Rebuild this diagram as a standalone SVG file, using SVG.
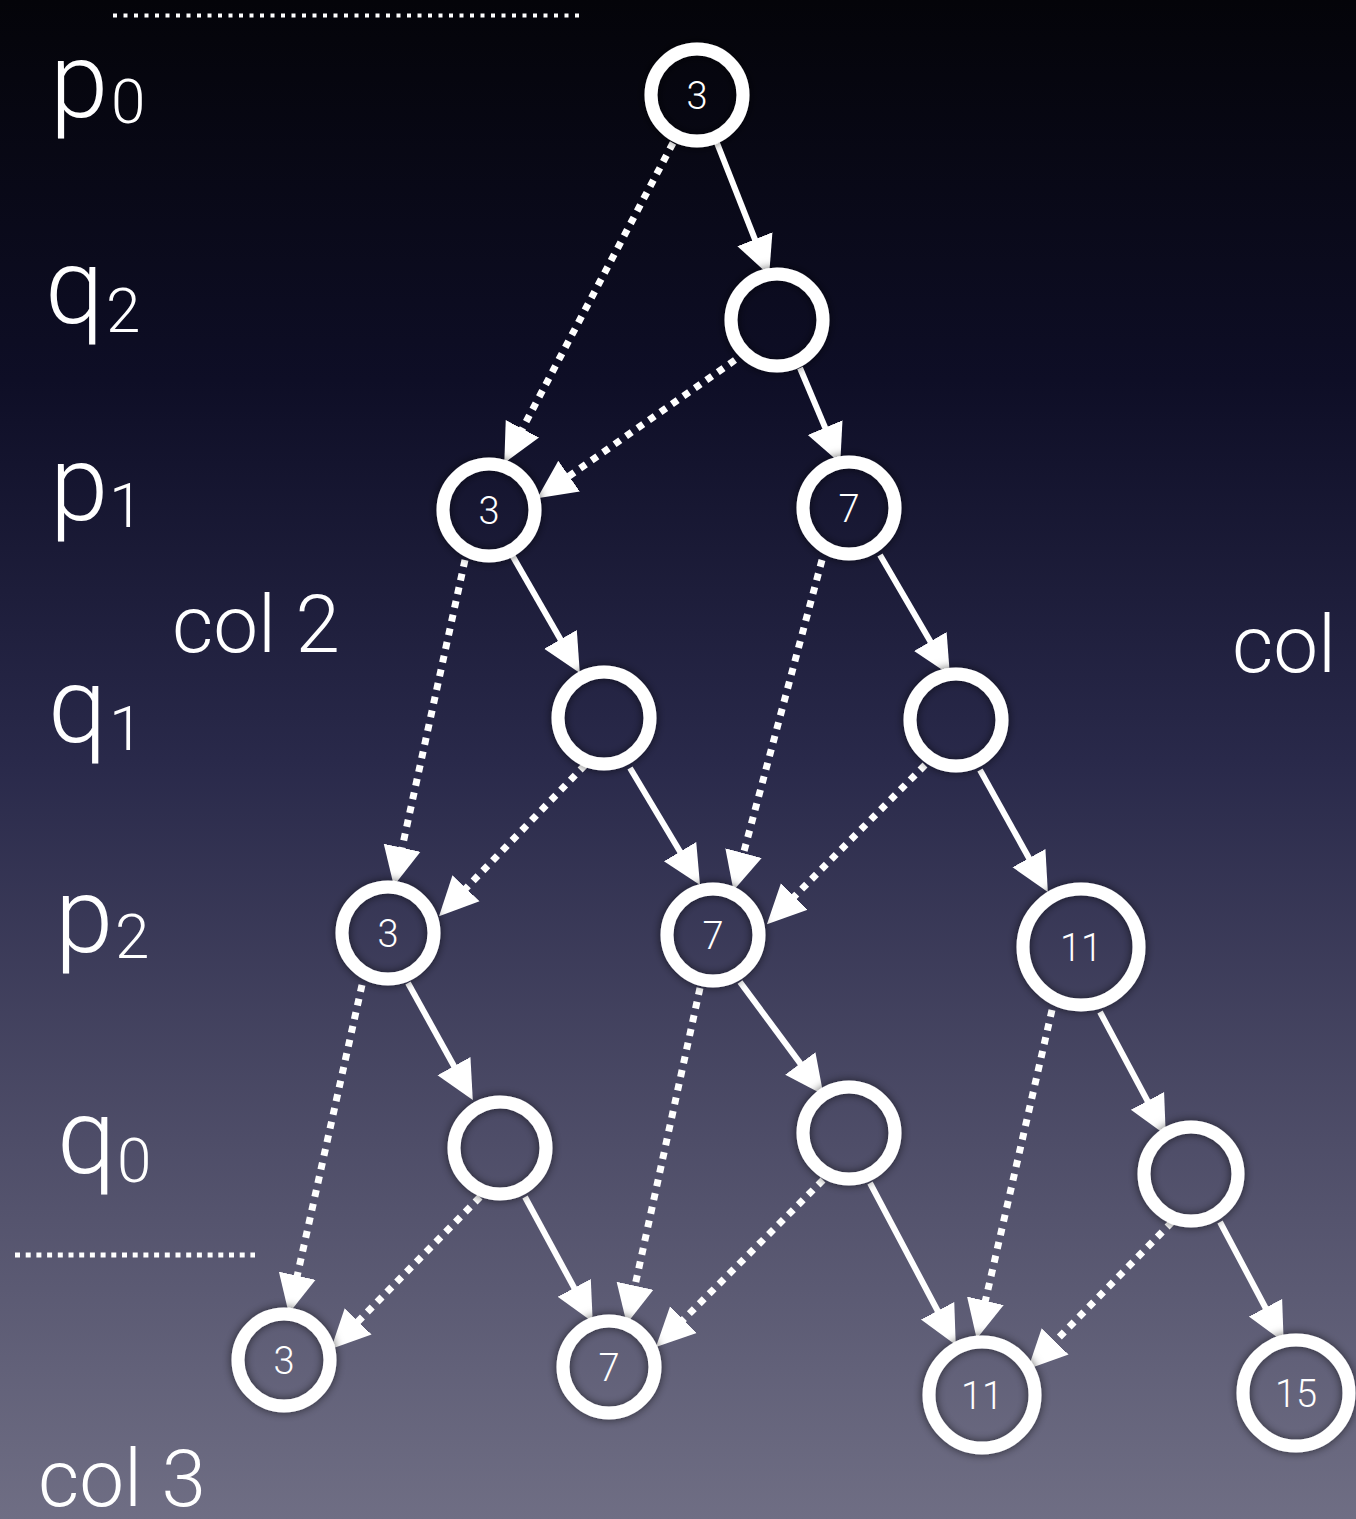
<svg xmlns="http://www.w3.org/2000/svg" width="1356" height="1519" viewBox="0 0 1356 1519">
<defs>
<linearGradient id="bg" x1="0" y1="0" x2="0" y2="1">
<stop offset="0" stop-color="#040409"/>
<stop offset="0.25" stop-color="#0e0e26"/>
<stop offset="0.5" stop-color="#29294a"/>
<stop offset="0.75" stop-color="#4e4d68"/>
<stop offset="1" stop-color="#6f6e84"/>
</linearGradient>
<filter id="sh" x="-30%" y="-30%" width="160%" height="160%">
<feDropShadow dx="0" dy="0" stdDeviation="5" flood-color="#000" flood-opacity="0.6"/>
</filter>
<marker id="ah" markerUnits="userSpaceOnUse" markerWidth="40" markerHeight="40" viewBox="0 -17 34 34" refX="6" refY="0" orient="auto">
<path d="M0,-16 L33,0 L0,16 z" fill="#fff"/>
</marker>
</defs>
<style>
.lbl{font-family:"Helvetica Neue","Roboto","Liberation Sans",sans-serif;font-weight:300;fill:#fff}
.big{font-size:105px}
.sub{font-size:62px}
.col{font-size:80px}
.n circle{fill:none;stroke:#fff;stroke-width:13;filter:url(#sh)}
.n text{font-family:"Helvetica Neue","Roboto","Liberation Sans",sans-serif;font-weight:300;font-size:38px;fill:#fff;text-anchor:middle}
.solid{stroke:#fff;stroke-width:6;fill:none;marker-end:url(#ah)}
.dot{stroke:#fff;stroke-width:7;stroke-dasharray:7 7;fill:none;marker-end:url(#ah)}
.hd{stroke:#fff;stroke-width:4;stroke-dasharray:4 6.5;fill:none}
</style>
<rect x="0" y="0" width="1356" height="1519" fill="url(#bg)"/>

<g id="guides">
<line class="hd" x1="113" y1="15.5" x2="583" y2="15.5"/>
<line class="hd" x1="15" y1="1255" x2="255" y2="1255" style="stroke-width:5;stroke-dasharray:5 5.7"/>
</g>

<g id="labels">
<text class="lbl"><tspan class="big" x="50" y="117">p</tspan><tspan class="sub" x="111" y="123">0</tspan></text>
<text class="lbl"><tspan class="big" x="45" y="323">q</tspan><tspan class="sub" x="106" y="332">2</tspan></text>
<text class="lbl"><tspan class="big" x="50" y="520">p</tspan><tspan class="sub" x="109" y="527">1</tspan></text>
<text class="lbl"><tspan class="big" x="48" y="742">q</tspan><tspan class="sub" x="109" y="750">1</tspan></text>
<text class="lbl"><tspan class="big" x="55" y="952">p</tspan><tspan class="sub" x="115" y="958">2</tspan></text>
<text class="lbl"><tspan class="big" x="57" y="1173">q</tspan><tspan class="sub" x="117" y="1182">0</tspan></text>
<text class="lbl col" x="172" y="652">col 2</text>
<text class="lbl col" x="1232" y="672">col</text>
<text class="lbl col" x="38" y="1506">col 3</text>
</g>

<g id="connectors">
<line class="solid" x1="717" y1="143" x2="757.5" y2="245.8"/>
<line class="dot" x1="673" y1="143" x2="519.1" y2="435"/>
<line class="dot" x1="735" y1="360" x2="563.3" y2="480.1"/>
<line class="solid" x1="800" y1="368" x2="827.9" y2="434.1"/>
<line class="solid" x1="512" y1="555" x2="564" y2="645.5"/>
<line class="dot" x1="465" y1="560" x2="400.6" y2="854.6"/>
<line class="dot" x1="585" y1="765" x2="461.1" y2="893.3"/>
<line class="solid" x1="630" y1="768" x2="683.7" y2="857.7"/>
<line class="solid" x1="880" y1="555" x2="933.9" y2="647.5"/>
<line class="dot" x1="822" y1="560" x2="741.7" y2="859.9"/>
<line class="dot" x1="925" y1="765" x2="789.3" y2="901.6"/>
<line class="solid" x1="980" y1="770" x2="1032.4" y2="864.3"/>
<line class="solid" x1="408" y1="983" x2="457.4" y2="1072.2"/>
<line class="dot" x1="362" y1="985" x2="295.7" y2="1282.6"/>
<line class="dot" x1="480" y1="1197" x2="353.2" y2="1326.4"/>
<line class="solid" x1="525" y1="1197" x2="577.6" y2="1294.1"/>
<line class="dot" x1="700" y1="988" x2="633.5" y2="1292.6"/>
<line class="solid" x1="740" y1="982" x2="804.5" y2="1069.1"/>
<line class="dot" x1="823" y1="1180" x2="678.4" y2="1324.6"/>
<line class="solid" x1="870" y1="1183" x2="940.9" y2="1317"/>
<line class="dot" x1="1052" y1="1010" x2="983.8" y2="1307.7"/>
<line class="solid" x1="1100" y1="1012" x2="1150.8" y2="1107.1"/>
<line class="dot" x1="1172" y1="1222" x2="1050.2" y2="1346.4"/>
<line class="solid" x1="1220" y1="1222" x2="1268.8" y2="1314"/>
</g>

<g id="nodeA" class="n"><circle cx="697" cy="95" r="46"/><text x="697" y="109">3</text></g>
<g id="nodeB" class="n"><circle cx="777" cy="320" r="46"/></g>
<g id="nodeC1" class="n"><circle cx="489" cy="510" r="46"/><text x="489" y="524">3</text></g>
<g id="nodeC2" class="n"><circle cx="849" cy="508" r="46"/><text x="849" y="522">7</text></g>
<g id="nodeD1" class="n"><circle cx="604" cy="718" r="46"/></g>
<g id="nodeD2" class="n"><circle cx="956" cy="720" r="46"/></g>
<g id="nodeE1" class="n"><circle cx="388" cy="933" r="46"/><text x="388" y="947">3</text></g>
<g id="nodeE2" class="n"><circle cx="713" cy="935" r="46"/><text x="713" y="949">7</text></g>
<g id="nodeE3" class="n"><circle cx="1081" cy="947" r="58"/><text x="1081" y="961">11</text></g>
<g id="nodeF1" class="n"><circle cx="500" cy="1148" r="46"/></g>
<g id="nodeF2" class="n"><circle cx="849" cy="1133" r="46"/></g>
<g id="nodeF3" class="n"><circle cx="1191" cy="1174" r="47"/></g>
<g id="nodeG1" class="n"><circle cx="284" cy="1360" r="46"/><text x="284" y="1374">3</text></g>
<g id="nodeG2" class="n"><circle cx="609" cy="1367" r="46"/><text x="609" y="1381">7</text></g>
<g id="nodeG3" class="n"><circle cx="982" cy="1395" r="53"/><text x="982" y="1409">11</text></g>
<g id="nodeG4" class="n"><circle cx="1296" cy="1393" r="53"/><text x="1296" y="1407">15</text></g>
</svg>
